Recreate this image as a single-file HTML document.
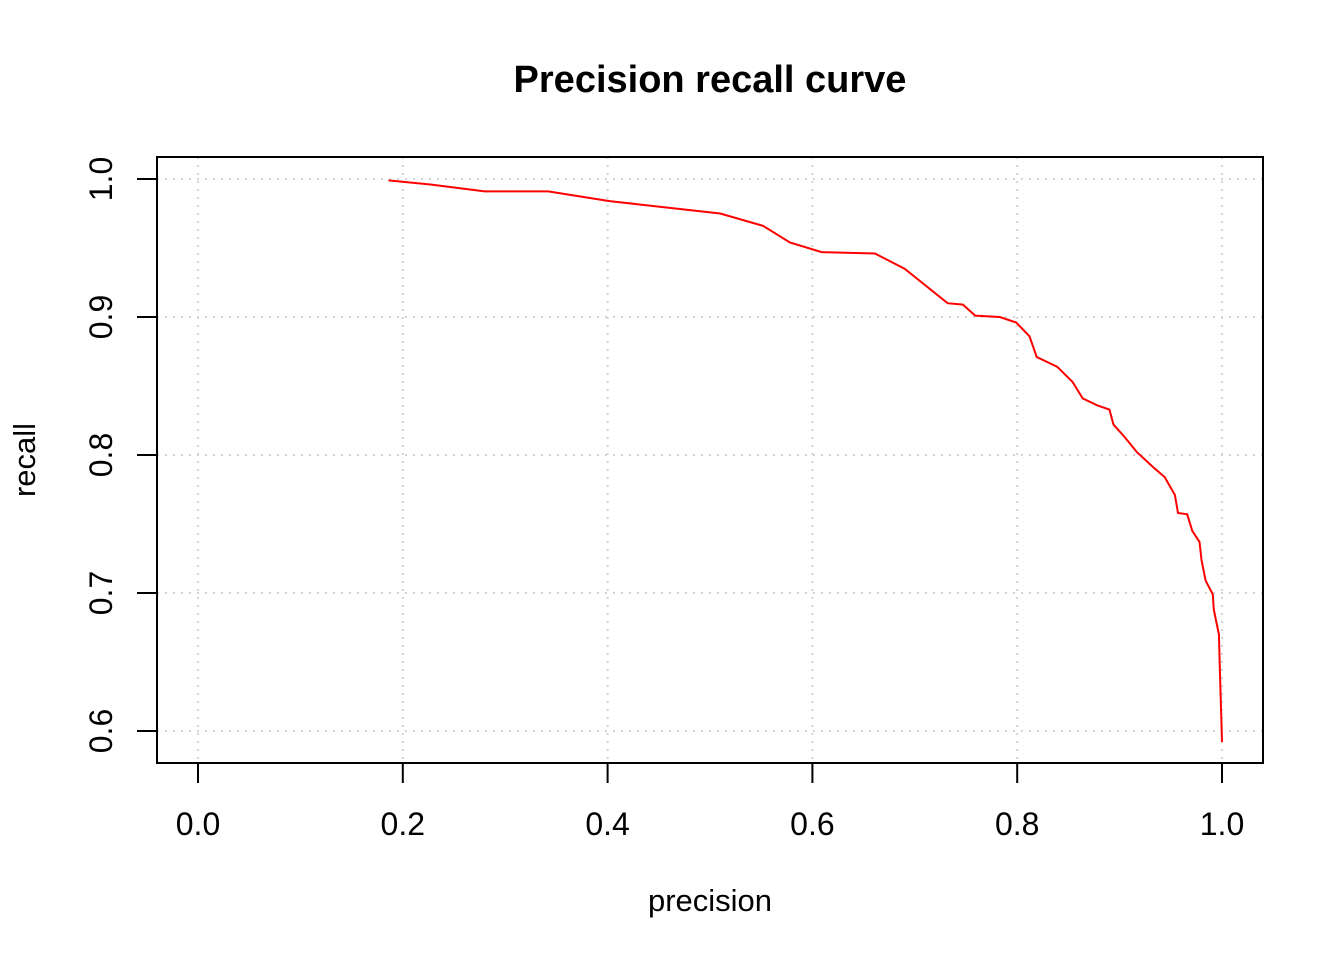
<!DOCTYPE html>
<html><head><meta charset="utf-8"><style>
body{margin:0;background:#fff}
svg{display:block;font-family:"Liberation Sans",Arial,sans-serif}
</style></head><body>
<svg id="chart" width="1344" height="960">
<text x="710" y="92" text-anchor="middle" font-size="38" font-weight="bold">Precision recall curve</text>
<g id="grid"></g>
<rect x="157" y="157" width="1106" height="606" fill="none" stroke="#000" stroke-width="2"/>
<g id="xaxis"></g>
<g id="yaxis"></g>
<text x="710" y="911" text-anchor="middle" font-size="31">precision</text>
<text transform="translate(35,460) rotate(-90)" text-anchor="middle" font-size="31">recall</text>
<path id="curve" fill="none" stroke="#ff0000" stroke-width="2"/>
</svg>
<script>
const xTicks=[0,0.2,0.4,0.6,0.8,1.0];
const xTickLabels=["0.0","0.2","0.4","0.6","0.8","1.0"];
const yTicks=[0.6,0.7,0.8,0.9,1.0];
const yTickLabels=["0.6","0.7","0.8","0.9","1.0"];
const precision=[0.186,0.227,0.280,0.314,0.342,0.402,0.510,0.552,0.578,0.609,0.661,0.690,0.732,0.747,0.759,0.783,0.799,0.812,0.819,0.839,0.854,0.864,0.878,0.890,0.894,0.905,0.917,0.933,0.944,0.954,0.957,0.966,0.971,0.978,0.980,0.984,0.991,0.992,0.997,0.998,1.0];
const recall=[0.999,0.996,0.991,0.991,0.991,0.984,0.975,0.966,0.954,0.947,0.946,0.935,0.910,0.909,0.901,0.900,0.896,0.886,0.871,0.864,0.853,0.841,0.836,0.833,0.822,0.813,0.802,0.791,0.784,0.771,0.758,0.757,0.745,0.737,0.724,0.709,0.699,0.688,0.670,0.641,0.592];
const NS="http://www.w3.org/2000/svg";
const X=v=>198+v*1024;
const Y=v=>179+(1-v)*1380;
function mk(tag,attrs,parent){const e=document.createElementNS(NS,tag);for(const k in attrs)e.setAttribute(k,attrs[k]);parent.appendChild(e);return e;}
const grid=document.getElementById('grid'),xa=document.getElementById('xaxis'),ya=document.getElementById('yaxis');
xTicks.forEach((t,i)=>{
 const g=mk('line',{x1:X(t),x2:X(t),y1:157,y2:763,stroke:'#d3d3d3','stroke-width':2,'stroke-dasharray':'2,6'},grid);
 
 
 const tk=mk('line',{x1:X(t),x2:X(t),y1:763,y2:783,stroke:'#000','stroke-width':2},xa);
 
 
 const lb=mk('text',{x:X(t),y:835,'text-anchor':'middle','font-size':32},xa);
 lb.textContent=xTickLabels[i];
 
 
});
yTicks.forEach((t,i)=>{
 const g=mk('line',{x1:157,x2:1263,y1:Y(t),y2:Y(t),stroke:'#d3d3d3','stroke-width':2,'stroke-dasharray':'2,6'},grid);
 
 
 const tk=mk('line',{x1:137,x2:157,y1:Y(t),y2:Y(t),stroke:'#000','stroke-width':2},ya);
 
 
 const lb=mk('text',{transform:`translate(112,${Y(t)}) rotate(-90)`,'text-anchor':'middle','font-size':32},ya);
 lb.textContent=yTickLabels[i];
 
 
});
document.getElementById('curve').setAttribute('d',precision.map((p,i)=>(i?'L':'M')+X(p).toFixed(1)+','+Y(recall[i]).toFixed(1)).join(' '));
</script>
</body></html>
